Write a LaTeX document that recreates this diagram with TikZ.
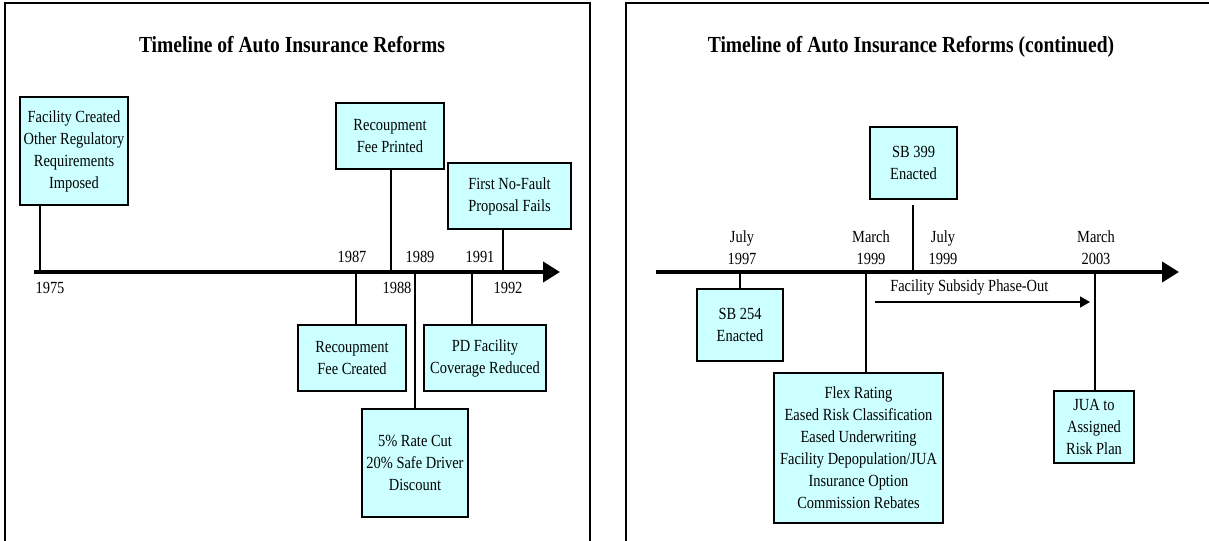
\documentclass[tikz,border=0pt]{standalone}
\usepackage{fontspec}
\setmainfont{Liberation Serif}[FakeStretch=0.85]
\usetikzlibrary{arrows.meta}
\definecolor{tlink}{HTML}{000000}
\definecolor{tlcyan}{HTML}{CCFFFF}
\tikzset{
  tl text/.style={font=\fontsize{12.75pt}{16.5pt}\selectfont, text=tlink},
  tl frame/.style={draw=tlink, line width=1.5pt, line cap=butt},
  tl title/.style={font=\fontsize{17.25pt}{20pt}\selectfont\bfseries},
  tl box/.style={draw=tlink, line width=1.5pt, fill=tlcyan, inner sep=0pt, align=center},
  tl link/.style={draw=tlink, line width=1.5pt},
  tl axis/.style={-{Triangle[length=12.75pt,width=15pt]}, line width=3pt, draw=tlink},
  tl span/.style={-{Triangle[length=7.5pt,width=8.25pt]}, line width=1.2pt, draw=tlink},
  tl date/.style={inner sep=0pt, align=center}
}
\begin{document}
\begin{tikzpicture}[tl text, x=0.75pt, y=-0.75pt]
  \useasboundingbox (0,0) rectangle (1209,541);
  \draw[tl frame] (5,541) -- (5,3) -- (590,3) -- (590,541);
  \draw[tl frame] (626,541) -- (626,3) -- (1209,3);
  \node[tl title] (ttlA) at (292,45) {Timeline of Auto Insurance Reforms};
  \node[tl title] (ttlB) at (911,47) {Timeline of Auto Insurance Reforms (continued)};
  \coordinate (axA0) at (34,272);
  \coordinate (axA1) at (560,272);
  \coordinate (axB0) at (656,272);
  \coordinate (axB1) at (1179,272);
  \foreach \n/\x in {t75/40, t87/356, t88/391, t89/415, t91/472, t92/503,
                     tjul97/740, tmar99/866, tjul99/913, tmar03/1095}
    \coordinate (\n) at (\x,272);
  % boxes above and below the first axis
  \node[tl box, minimum width=81pt, minimum height=81pt] (fac) at (74,151)
    {Facility Created\\Other Regulatory\\Requirements\\Imposed};
  \node[tl box, minimum width=81pt, minimum height=49.5pt] (feeprt) at (390,136)
    {Recoupment\\Fee Printed};
  \node[tl box, minimum width=92.25pt, minimum height=49.5pt] (nofault) at (509.5,196)
    {First No-Fault\\Proposal Fails};
  \node[tl box, minimum width=81pt, minimum height=49.5pt] (feecrt) at (352,358)
    {Recoupment\\Fee Created};
  \node[tl box, minimum width=91.5pt, minimum height=49.5pt] (pdfac) at (485,358)
    {PD Facility\\Coverage Reduced};
  \node[tl box, minimum width=79.5pt, minimum height=81pt] (ratecut) at (415,463)
    {5\% Rate Cut\\20\% Safe Driver\\Discount};
  % boxes above and below the second axis
  \node[tl box, minimum width=65.25pt, minimum height=54pt] (sb399) at (913.5,163)
    {SB 399\\Enacted};
  \node[tl box, minimum width=64.5pt, minimum height=54pt] (sb254) at (740,325)
    {SB 254\\Enacted};
  \node[tl box, minimum width=126.75pt, minimum height=112.5pt] (flex) at (858.5,448)
    {Flex Rating\\Eased Risk Classification\\Eased Underwriting\\Facility Depopulation/JUA\\Insurance Option\\Commission Rebates};
  \node[tl box, minimum width=60pt, minimum height=54pt] (jua) at (1094,427)
    {JUA to\\Assigned\\Risk Plan};
  \foreach \b/\t in {fac/t75, feeprt/t88, nofault/t92}
    \draw[tl link] (\t |- \b.south) -- (\t);
  \foreach \b/\t in {feecrt/t87, pdfac/t91, ratecut/t89, sb254/tjul97, flex/tmar99, jua/tmar03}
    \draw[tl link] (\t) -- (\t |- \b.north);
  \draw[tl link, shorten <=3.75pt] (tjul99 |- sb399.south) -- (tjul99);
  \draw[tl axis] (axA0) -- (axA1);
  \draw[tl axis] (axB0) -- (axB1);
  \node[tl date] (d75) at (50,288) {1975};
  \node[tl date] (d87) at (352,257) {1987};
  \node[tl date] (d88) at (397,288) {1988};
  \node[tl date] (d89) at (420,257) {1989};
  \node[tl date] (d91) at (480,257) {1991};
  \node[tl date] (d92) at (508,288) {1992};
  \node[tl date] (djul97) at (742,248) {July\\1997};
  \node[tl date] (dmar99) at (871,248) {March\\1999};
  \node[tl date] (djul99) at (943,248) {July\\1999};
  \node[tl date] (dmar03) at (1096,248) {March\\2003};
  \coordinate (po0) at (875,302);
  \coordinate (po1) at (1090,302);
  \draw[tl span] (po0) -- (po1);
  \node[tl date, anchor=west] (phase) at (890,287) {Facility Subsidy Phase-Out};
\end{tikzpicture}
\end{document}
